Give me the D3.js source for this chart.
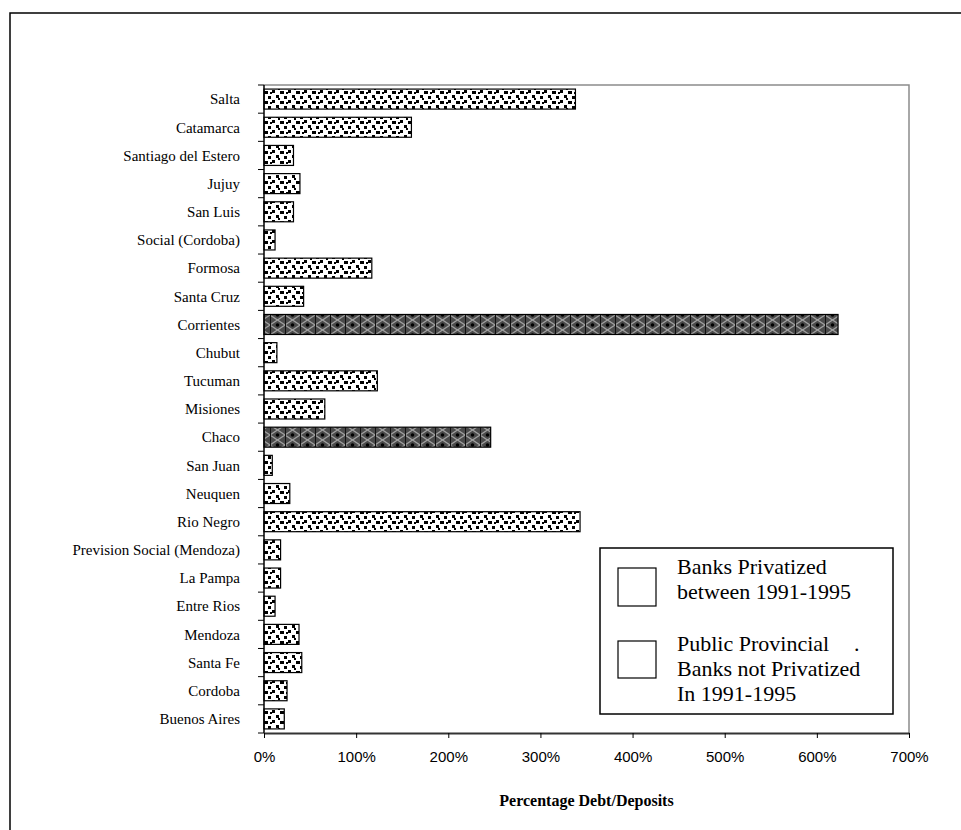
<!DOCTYPE html>
<html>
<head>
<meta charset="utf-8">
<script src="https://cdn.jsdelivr.net/npm/d3@7/dist/d3.min.js"></script>
<style>
  html, body { margin: 0; padding: 0; background: #fff; }
  svg { display: block; }
</style>
</head>
<body>
<script>
// Provincial banks, debt as a share of deposits
const categories = [
  "Salta", "Catamarca", "Santiago del Estero", "Jujuy", "San Luis",
  "Social (Cordoba)", "Formosa", "Santa Cruz", "Corrientes", "Chubut",
  "Tucuman", "Misiones", "Chaco", "San Juan", "Neuquen", "Rio Negro",
  "Prevision Social (Mendoza)", "La Pampa", "Entre Rios", "Mendoza",
  "Santa Fe", "Cordoba", "Buenos Aires"
];
// percentage debt / deposits
const values = [
  338, 160, 32, 39, 32,
  12, 117, 43, 623, 14,
  123, 66, 246, 9, 28, 343,
  18, 18, 12, 38,
  41, 25, 22
];
// 1 = privatized between 1991-1995, 0 = public provincial bank not privatized
const privatized = [
  1, 1, 1, 1, 1,
  1, 1, 1, 0, 1,
  1, 1, 0, 1, 1, 1,
  1, 1, 1, 1,
  1, 1, 1
];
const xTicks = [0, 100, 200, 300, 400, 500, 600, 700];
const legendLines1 = ["Banks Privatized", "between 1991-1995"];
const legendLines2 = ["Public Provincial", "Banks not Privatized", "In 1991-1995"];
const axisTitle = "Percentage Debt/Deposits";

const W = 961, H = 830;
const plot = { left: 264, top: 85, right: 909, bottom: 733 };

const svg = d3.select("body").append("svg")
  .attr("width", W).attr("height", H);

// fill patterns: staggered dots for privatized banks, dark lattice for the rest
const defs = svg.append("defs");
const dots = defs.append("pattern")
  .attr("id", "dots").attr("patternUnits", "userSpaceOnUse")
  .attr("width", 16).attr("height", 10);
dots.append("rect").attr("width", 16).attr("height", 10).attr("fill", "#fff");
[[0, 0, 3, 3], [8, 1, 4, 3], [4, 5, 3, 3], [12, 6, 3, 3], [14, 2, 2, 2], [6, 8, 2, 2]]
  .forEach(([x, y, w, h]) =>
    dots.append("rect").attr("x", x).attr("y", y).attr("width", w).attr("height", h).attr("fill", "#000"));

const hatch = defs.append("pattern")
  .attr("id", "hatch").attr("patternUnits", "userSpaceOnUse")
  .attr("width", 15).attr("height", 10);
hatch.append("rect").attr("width", 15).attr("height", 10).attr("fill", "#4a4a4a");
hatch.append("path").attr("d", "M0,5 L7.5,0 L15,5 L7.5,10 Z")
  .attr("fill", "none").attr("stroke", "#a0a0a0").attr("stroke-width", 1.3);
hatch.append("circle").attr("cx", 7.5).attr("cy", 5).attr("r", 1.8).attr("fill", "#000");
hatch.append("rect").attr("x", 0).attr("y", 0).attr("width", 1).attr("height", 10).attr("fill", "#111");

// outer frame
svg.append("rect")
  .attr("x", 10).attr("y", 13).attr("width", W + 20).attr("height", H + 20)
  .attr("fill", "#fff").attr("stroke", "#000").attr("stroke-width", 1.5);

const x = d3.scaleLinear().domain([0, 700]).range([plot.left, plot.right]);
const y = d3.scaleBand().domain(categories).range([plot.top, plot.bottom])
  .paddingInner(0.29).paddingOuter(0.145);

// plot area border (top and right)
svg.append("path")
  .attr("d", `M${plot.left},${plot.top} H${plot.right} V${plot.bottom}`)
  .attr("fill", "none").attr("stroke", "#8c8c8c").attr("stroke-width", 1.5);

// bars
svg.append("g").selectAll("rect")
  .data(categories)
  .join("rect")
  .attr("x", x(0))
  .attr("y", d => y(d))
  .attr("width", (d, i) => x(values[i]) - x(0))
  .attr("height", y.bandwidth())
  .attr("fill", (d, i) => privatized[i] ? "url(#dots)" : "url(#hatch)")
  .attr("stroke", "#000").attr("stroke-width", 1.2);

// category axis: boundary ticks and labels
const step = y.step();
const yAxis = svg.append("g");
yAxis.append("line")
  .attr("x1", plot.left).attr("x2", plot.left)
  .attr("y1", plot.top).attr("y2", plot.bottom)
  .attr("stroke", "#000").attr("stroke-width", 1.5);
d3.range(categories.length + 1).forEach(i => {
  const yy = plot.top + i * step;
  yAxis.append("line")
    .attr("x1", plot.left - 6).attr("x2", plot.left)
    .attr("y1", yy).attr("y2", yy)
    .attr("stroke", "#000").attr("stroke-width", 1);
});
yAxis.selectAll("text")
  .data(categories)
  .join("text")
  .attr("x", 240)
  .attr("y", d => y(d) + y.bandwidth() / 2)
  .attr("dy", "0.35em")
  .attr("text-anchor", "end")
  .attr("font-family", "Liberation Serif, Times New Roman, serif")
  .attr("font-size", 15)
  .text(d => d);

// value axis
const xAxis = d3.axisBottom(x)
  .tickValues(xTicks)
  .tickFormat(d => d + "%")
  .tickSize(5)
  .tickSizeOuter(0)
  .tickPadding(13);
const gx = svg.append("g")
  .attr("transform", `translate(0,${plot.bottom})`)
  .call(xAxis);
gx.select(".domain").attr("stroke", "#333").attr("stroke-width", 2);
gx.selectAll(".tick line").attr("stroke", "#000");
gx.selectAll(".tick text")
  .attr("font-family", "Liberation Sans, Arial, sans-serif")
  .attr("font-size", 15)
  .attr("fill", "#000");

svg.append("text")
  .attr("x", (plot.left + plot.right) / 2)
  .attr("y", 806)
  .attr("text-anchor", "middle")
  .attr("font-family", "Liberation Serif, Times New Roman, serif")
  .attr("font-weight", "bold")
  .attr("font-size", 16)
  .text(axisTitle);

// legend
const lg = svg.append("g");
lg.append("rect")
  .attr("x", 600).attr("y", 548).attr("width", 293).attr("height", 166)
  .attr("fill", "#fff").attr("stroke", "#000").attr("stroke-width", 1.5);
lg.append("rect")
  .attr("x", 618).attr("y", 568).attr("width", 38).attr("height", 38)
  .attr("fill", "#fff").attr("stroke", "#000").attr("stroke-width", 1.2);
lg.append("rect")
  .attr("x", 618).attr("y", 641).attr("width", 38).attr("height", 37)
  .attr("fill", "#fff").attr("stroke", "#000").attr("stroke-width", 1.2);
const legendFont = t => t
  .attr("font-family", "Liberation Serif, Times New Roman, serif")
  .attr("font-size", 22)
  .attr("fill", "#000");
legendLines1.forEach((s, i) =>
  lg.append("text").attr("x", 677).attr("y", 574 + i * 25).text(s).call(legendFont));
legendLines2.forEach((s, i) =>
  lg.append("text").attr("x", 677).attr("y", 651 + i * 25).text(s).call(legendFont));
lg.append("text").attr("x", 854).attr("y", 651).text(".").call(legendFont);
</script>
</body>
</html>
